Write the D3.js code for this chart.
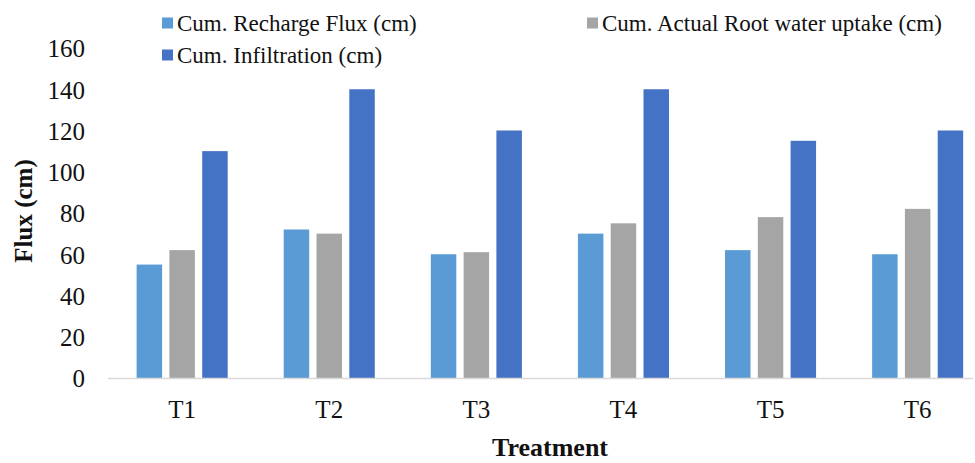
<!DOCTYPE html>
<html>
<head>
<meta charset="utf-8">
<script src="https://cdn.jsdelivr.net/npm/d3@7"></script>
<style>
  html, body { margin: 0; padding: 0; background: #fff; }
  svg { display: block; }
  text { font-family: "Liberation Serif", "Times New Roman", serif; fill: #111; }
</style>
</head>
<body>
<svg id="chart" width="975" height="463"></svg>
<script>
const categories = ["T1", "T2", "T3", "T4", "T5", "T6"];
const seriesNames = ["Cum. Recharge Flux (cm)", "Cum. Actual Root water uptake (cm)", "Cum. Infiltration (cm)"];
const rechargeFlux = [55, 72, 60, 70, 62, 60];
const rootWaterUptake = [62, 70, 61, 75, 78, 82];
const infiltration = [110, 140, 120, 140, 115, 120];
const yTicks = [0, 20, 40, 60, 80, 100, 120, 140, 160];
const colors = ["#5B9BD5", "#A5A5A5", "#4472C4"];

const seriesValues = [rechargeFlux, rootWaterUptake, infiltration];
const data = categories.map((c, i) => ({
  cat: c,
  vals: seriesNames.map((s, j) => ({ key: s, value: seriesValues[j][i], color: colors[j] }))
}));

const W = 975, H = 463;
const margin = { left: 108.6, right: -16.2, top: 48, bottom: 85 };
const svg = d3.select("#chart");

const x = d3.scaleBand()
  .domain(categories)
  .range([margin.left, W - margin.right])
  .paddingInner(0.381)
  .paddingOuter(0.1905);

const xInner = d3.scaleBand()
  .domain(seriesNames)
  .range([0, x.bandwidth()])
  .paddingInner(0.223)
  .paddingOuter(0);

const y = d3.scaleLinear().domain([0, 160]).range([H - margin.bottom, margin.top]);

// y tick labels (no axis line)
const yAxis = d3.axisLeft(y).tickValues(yTicks).tickSize(0).tickPadding(0).tickFormat(d3.format("d"));
const gy = svg.append("g").attr("transform", "translate(85,0)").call(yAxis);
gy.select(".domain").remove();
gy.selectAll("text")
  .attr("font-family", '"Liberation Serif", "Times New Roman", serif')
  .attr("font-size", 25)
  .attr("fill", "#111")
  .attr("dy", "0.35em");

// bars
const groups = svg.append("g").selectAll("g").data(data).join("g")
  .attr("transform", d => `translate(${x(d.cat)},0)`);
groups.selectAll("rect").data(d => d.vals).join("rect")
  .attr("x", d => xInner(d.key))
  .attr("width", xInner.bandwidth())
  .attr("y", d => y(d.value))
  .attr("height", d => y(0) - y(d.value))
  .attr("fill", d => d.color);

// x axis baseline
svg.append("line")
  .attr("x1", 108).attr("x2", 973)
  .attr("y1", y(0) + 0.5).attr("y2", y(0) + 0.5)
  .attr("stroke", "#D9D9D9").attr("stroke-width", 1.5);

// x tick labels
const xAxis = d3.axisBottom(x).tickSize(0).tickPadding(0);
const gx = svg.append("g").attr("transform", `translate(0,${y(0)})`).call(xAxis);
gx.select(".domain").remove();
gx.selectAll("text")
  .attr("font-family", '"Liberation Serif", "Times New Roman", serif')
  .attr("font-size", 25)
  .attr("fill", "#111")
  .attr("dy", null)
  .attr("y", 40);

// axis titles
svg.append("text")
  .attr("x", 550).attr("y", 456)
  .attr("text-anchor", "middle")
  .attr("font-size", 26).attr("font-weight", "bold")
  .text("Treatment");

svg.append("text")
  .attr("transform", "translate(32,211) rotate(-90)")
  .attr("text-anchor", "middle")
  .attr("font-size", 25).attr("font-weight", "bold")
  .text("Flux (cm)");

// legend
const legendItems = [
  { name: seriesNames[0], color: colors[0], x: 162, y: 23 },
  { name: seriesNames[1], color: colors[1], x: 587, y: 23 },
  { name: seriesNames[2], color: colors[2], x: 162, y: 55 }
];
const lg = svg.append("g").selectAll("g").data(legendItems).join("g")
  .attr("transform", d => `translate(${d.x},${d.y})`);
lg.append("rect").attr("x", 0).attr("y", -5.5).attr("width", 11).attr("height", 11).attr("fill", d => d.color);
lg.append("text").attr("x", 15).attr("dy", "0.35em").attr("font-size", 23).text(d => d.name);
</script>
</body>
</html>
